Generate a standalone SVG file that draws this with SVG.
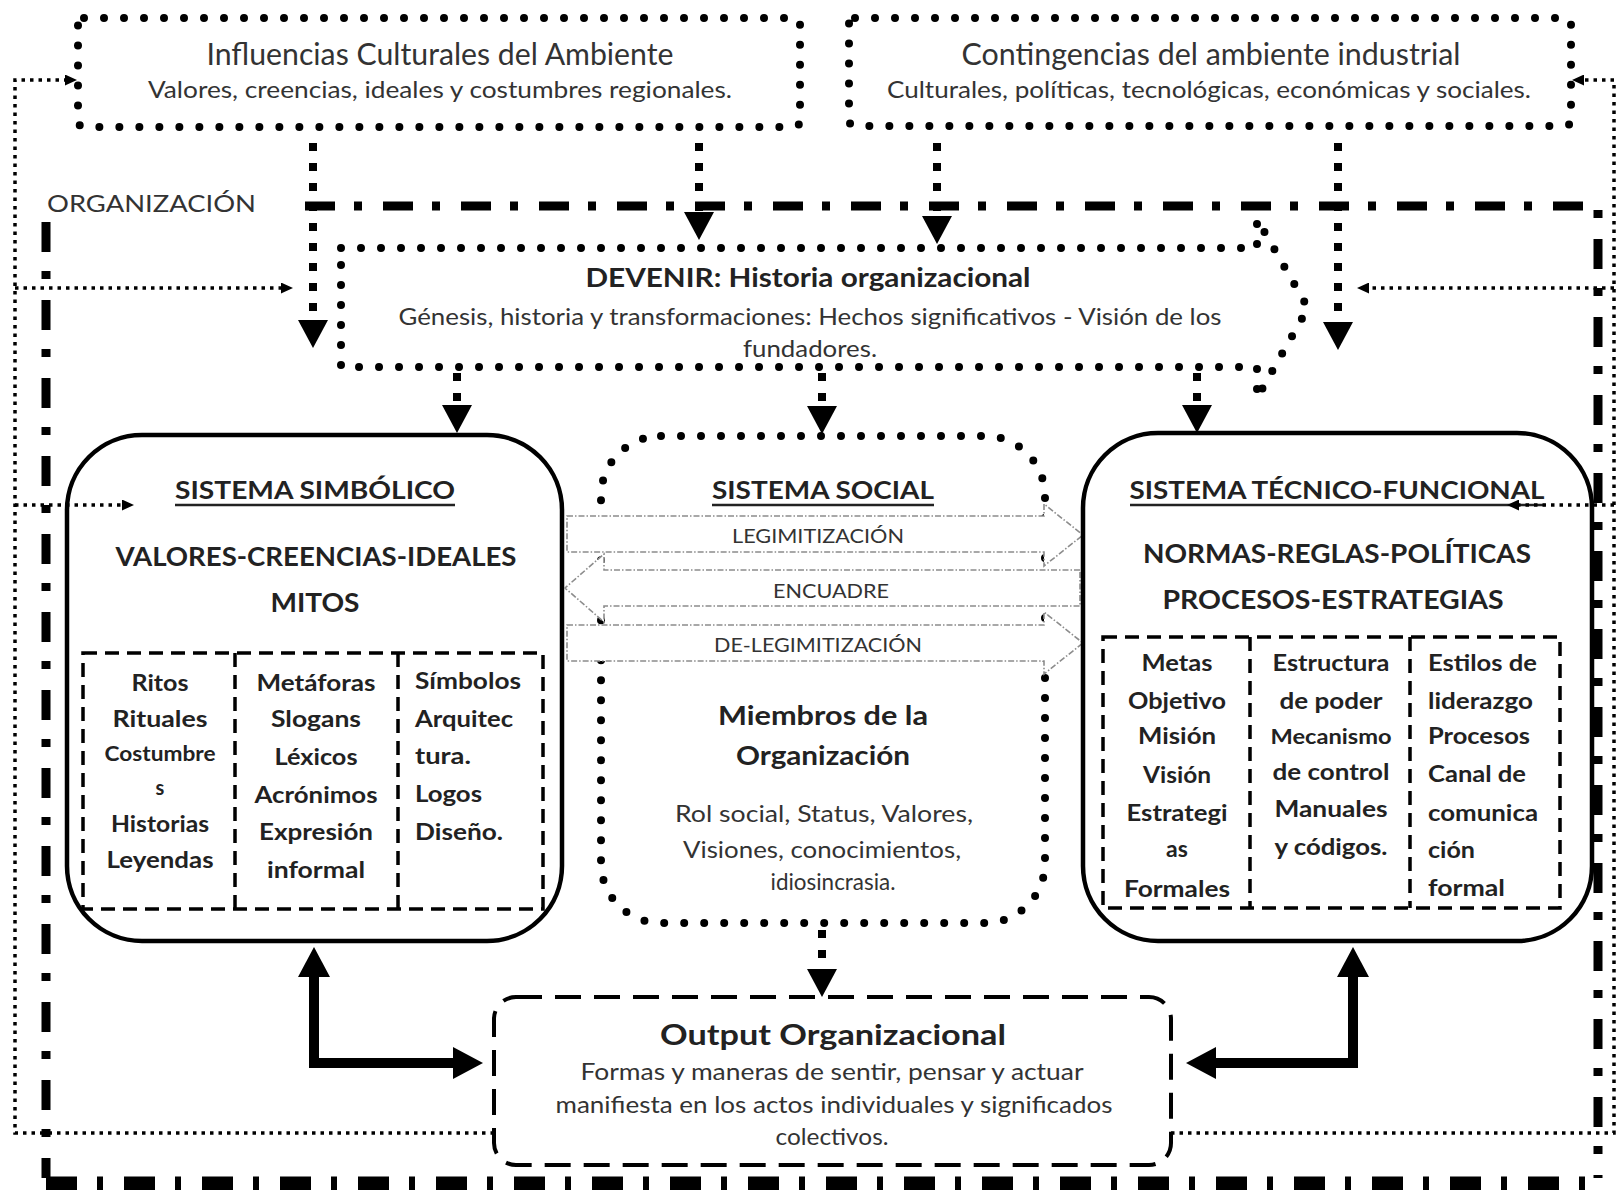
<svg xmlns="http://www.w3.org/2000/svg" width="1618" height="1190" viewBox="0 0 1618 1190">
  <defs>
    <style>
      .t { font-family: Lato, "Noto Sans", "Liberation Sans", sans-serif; fill: #333; }
      .b { font-weight: 700; fill: #222; }
      .c { text-anchor: middle; }
      .dots { fill: none; stroke: #000; stroke-width: 8; stroke-linecap: round; stroke-dasharray: 0 20; }
      .sq { fill: none; stroke: #000; stroke-width: 8; stroke-dasharray: 8 12; }
      .thin { fill: none; stroke: #000; stroke-width: 3.5; stroke-dasharray: 3.5 5; }
      .org { fill: none; stroke: #000; stroke-width: 9; stroke-dasharray: 30 19 8 21; }
      .orgb { fill: none; stroke: #000; stroke-width: 15; stroke-dasharray: 31 20 6 21; }
      .solid { fill: #fff; stroke: #000; stroke-width: 4.5; }
      .dash { fill: none; stroke: #000; stroke-width: 3.5; stroke-dasharray: 14 8; }
      .odash { fill: #fff; stroke: #000; stroke-width: 4; stroke-dasharray: 26 13; }
      .blk { fill: #fff; stroke: #8c8c8c; stroke-width: 1.6; stroke-dasharray: 6 2 1.5 2; }
      .thick { fill: none; stroke: #000; stroke-width: 10; stroke-linejoin: miter; }
      .ul { stroke: #222; stroke-width: 2.5; }
    </style>
    <marker id="ah" markerUnits="userSpaceOnUse" markerWidth="28" markerHeight="30" viewBox="0 0 28 30" refX="14" refY="15" orient="auto">
      <path d="M0,0L28,15L0,30Z" fill="#000"/>
    </marker>
    <marker id="sh" markerUnits="userSpaceOnUse" markerWidth="12" markerHeight="11" viewBox="0 0 12 11" refX="6" refY="5.5" orient="auto">
      <path d="M0,0L12,5.5L0,11Z" fill="#000"/>
    </marker>
    <marker id="th" markerUnits="userSpaceOnUse" markerWidth="30" markerHeight="32" viewBox="0 0 30 32" refX="15" refY="16" orient="auto-start-reverse">
      <path d="M0,0L30,16L0,32Z" fill="#000"/>
    </marker>
  </defs>

  <rect width="1618" height="1190" fill="#fff"/>

  <!-- organization boundary -->
  <g id="organizacion">
    <path class="org" d="M305,206 H1598 V1178"/>
    <path class="org" d="M46,222 V1178"/>
    <path class="orgb" d="M46,1184 H1604"/>
    <text class="t" x="47" y="212" font-size="24" textLength="209" lengthAdjust="spacingAndGlyphs">ORGANIZACIÓN</text>
  </g>

  <!-- environment boxes -->
  <g id="influencias">
    <rect class="dots" x="78" y="18" width="722" height="109" rx="6"/>
    <text class="t c" x="440" y="65" font-size="31" textLength="467" lengthAdjust="spacingAndGlyphs">Influencias Culturales del Ambiente</text>
    <text class="t c" x="440" y="98" font-size="23" textLength="584" lengthAdjust="spacingAndGlyphs">Valores, creencias, ideales y costumbres regionales.</text>
  </g>
  <g id="contingencias">
    <rect class="dots" x="849" y="18" width="722" height="108" rx="6"/>
    <text class="t c" x="1211" y="65" font-size="31" textLength="499" lengthAdjust="spacingAndGlyphs">Contingencias del ambiente industrial</text>
    <text class="t c" x="1209" y="98" font-size="23" textLength="644" lengthAdjust="spacingAndGlyphs">Culturales, políticas, tecnológicas, económicas y sociales.</text>
  </g>

  <!-- history arrow -->
  <g id="devenir">
    <path class="dots" fill="#fff" d="M341,248 H1257 V219 L1308,308 L1257,398 V367 H341 Z"/>
    <text class="t b c" x="808" y="287" font-size="26" textLength="445" lengthAdjust="spacingAndGlyphs">DEVENIR: Historia organizacional</text>
    <text class="t c" x="810" y="325" font-size="23" textLength="823" lengthAdjust="spacingAndGlyphs">Génesis, historia y transformaciones: Hechos significativos - Visión de los</text>
    <text class="t c" x="810" y="357" font-size="23" textLength="134" lengthAdjust="spacingAndGlyphs">fundadores.</text>
  </g>

  <!-- symbolic system -->
  <g id="simbolico">
    <rect class="solid" x="67" y="435" width="495" height="506" rx="75"/>
    <text class="t b c" x="315" y="499" font-size="25" textLength="280" lengthAdjust="spacingAndGlyphs">SISTEMA SIMBÓLICO</text>
    <line class="ul" x1="175" y1="505" x2="455" y2="505"/>
    <text class="t b c" x="316" y="566" font-size="26" textLength="401" lengthAdjust="spacingAndGlyphs">VALORES-CREENCIAS-IDEALES</text>
    <text class="t b c" x="315" y="612" font-size="26" textLength="89" lengthAdjust="spacingAndGlyphs">MITOS</text>
    <rect class="dash" x="83" y="653" width="460" height="256"/>
    <line class="dash" x1="235" y1="653" x2="235" y2="909"/>
    <line class="dash" x1="398" y1="653" x2="398" y2="909"/>
    <g class="t b c" font-size="23">
      <text x="160" y="691" textLength="57" lengthAdjust="spacingAndGlyphs">Ritos</text>
      <text x="160" y="727" textLength="95" lengthAdjust="spacingAndGlyphs">Rituales</text>
      <text x="160" y="761" font-size="20" textLength="111" lengthAdjust="spacingAndGlyphs">Costumbre</text>
      <text x="160" y="795" font-size="20">s</text>
      <text x="160" y="832" textLength="98" lengthAdjust="spacingAndGlyphs">Historias</text>
      <text x="160" y="868" textLength="107" lengthAdjust="spacingAndGlyphs">Leyendas</text>
      <text x="316" y="691" textLength="119" lengthAdjust="spacingAndGlyphs">Metáforas</text>
      <text x="316" y="727" textLength="90" lengthAdjust="spacingAndGlyphs">Slogans</text>
      <text x="316" y="765" textLength="83" lengthAdjust="spacingAndGlyphs">Léxicos</text>
      <text x="316" y="803" textLength="123" lengthAdjust="spacingAndGlyphs">Acrónimos</text>
      <text x="316" y="840" textLength="114" lengthAdjust="spacingAndGlyphs">Expresión</text>
      <text x="316" y="878" textLength="98" lengthAdjust="spacingAndGlyphs">informal</text>
    </g>
    <g class="t b" font-size="23">
      <text x="415" y="689" textLength="106" lengthAdjust="spacingAndGlyphs">Símbolos</text>
      <text x="415" y="727" textLength="98" lengthAdjust="spacingAndGlyphs">Arquitec</text>
      <text x="415" y="764" textLength="56" lengthAdjust="spacingAndGlyphs">tura.</text>
      <text x="415" y="802" textLength="67" lengthAdjust="spacingAndGlyphs">Logos</text>
      <text x="415" y="840" textLength="88" lengthAdjust="spacingAndGlyphs">Diseño.</text>
    </g>
  </g>

  <!-- social system -->
  <g id="social">
    <rect class="dots" x="601" y="436" width="444" height="487" rx="60"/>
    <text class="t b c" x="823" y="499" font-size="25" textLength="222" lengthAdjust="spacingAndGlyphs">SISTEMA SOCIAL</text>
    <line class="ul" x1="712" y1="505" x2="934" y2="505"/>
    <path class="blk" d="M567,516 H1044 V504 L1083,535 L1044,566 V552 H567 Z"/>
    <path class="blk" d="M1080,570 H604 V554 L565,588 L604,622 V606 H1080 Z"/>
    <path class="blk" d="M567,625 H1044 V612 L1083,643 L1044,674 V661 H567 Z"/>
    <text class="t c" x="818" y="543" font-size="20" textLength="172" lengthAdjust="spacingAndGlyphs">LEGIMITIZACIÓN</text>
    <text class="t c" x="831" y="598" font-size="20" textLength="116" lengthAdjust="spacingAndGlyphs">ENCUADRE</text>
    <text class="t c" x="818" y="652" font-size="20" textLength="208" lengthAdjust="spacingAndGlyphs">DE-LEGIMITIZACIÓN</text>
    <text class="t b c" x="823" y="725" font-size="27" textLength="210" lengthAdjust="spacingAndGlyphs">Miembros de la</text>
    <text class="t b c" x="823" y="765" font-size="27" textLength="174" lengthAdjust="spacingAndGlyphs">Organización</text>
    <text class="t c" x="824" y="822" font-size="23" textLength="298" lengthAdjust="spacingAndGlyphs">Rol social, Status, Valores,</text>
    <text class="t c" x="822" y="858" font-size="23" textLength="278" lengthAdjust="spacingAndGlyphs">Visiones, conocimientos,</text>
    <text class="t c" x="833" y="890" font-size="23" textLength="125" lengthAdjust="spacingAndGlyphs">idiosincrasia.</text>
  </g>

  <!-- technical-functional system -->
  <g id="tecnico">
    <rect class="solid" x="1083" y="433" width="509" height="508" rx="75"/>
    <text class="t b c" x="1337" y="499" font-size="25" textLength="415" lengthAdjust="spacingAndGlyphs">SISTEMA TÉCNICO-FUNCIONAL</text>
    <line class="ul" x1="1130" y1="505" x2="1545" y2="505"/>
    <text class="t b c" x="1337" y="563" font-size="26" textLength="388" lengthAdjust="spacingAndGlyphs">NORMAS-REGLAS-POLÍTICAS</text>
    <text class="t b c" x="1333" y="609" font-size="26" textLength="341" lengthAdjust="spacingAndGlyphs">PROCESOS-ESTRATEGIAS</text>
    <rect class="dash" x="1103" y="637" width="457" height="271"/>
    <line class="dash" x1="1250" y1="637" x2="1250" y2="908"/>
    <line class="dash" x1="1410" y1="637" x2="1410" y2="908"/>
    <g class="t b c" font-size="23">
      <text x="1177" y="671" textLength="71" lengthAdjust="spacingAndGlyphs">Metas</text>
      <text x="1177" y="709" textLength="98" lengthAdjust="spacingAndGlyphs">Objetivo</text>
      <text x="1177" y="744" textLength="78" lengthAdjust="spacingAndGlyphs">Misión</text>
      <text x="1177" y="783" textLength="68" lengthAdjust="spacingAndGlyphs">Visión</text>
      <text x="1177" y="821" textLength="101" lengthAdjust="spacingAndGlyphs">Estrategi</text>
      <text x="1177" y="857">as</text>
      <text x="1177" y="897" textLength="106" lengthAdjust="spacingAndGlyphs">Formales</text>
      <text x="1331" y="671" textLength="117" lengthAdjust="spacingAndGlyphs">Estructura</text>
      <text x="1331" y="709" textLength="103" lengthAdjust="spacingAndGlyphs">de poder</text>
      <text x="1331" y="744" font-size="21" textLength="121" lengthAdjust="spacingAndGlyphs">Mecanismo</text>
      <text x="1331" y="780" textLength="117" lengthAdjust="spacingAndGlyphs">de control</text>
      <text x="1331" y="817" textLength="113" lengthAdjust="spacingAndGlyphs">Manuales</text>
      <text x="1331" y="855" textLength="113" lengthAdjust="spacingAndGlyphs">y códigos.</text>
    </g>
    <g class="t b" font-size="23">
      <text x="1428" y="671" textLength="109" lengthAdjust="spacingAndGlyphs">Estilos de</text>
      <text x="1428" y="709" textLength="105" lengthAdjust="spacingAndGlyphs">liderazgo</text>
      <text x="1428" y="744" textLength="102" lengthAdjust="spacingAndGlyphs">Procesos</text>
      <text x="1428" y="782" textLength="98" lengthAdjust="spacingAndGlyphs">Canal de</text>
      <text x="1428" y="821" textLength="110" lengthAdjust="spacingAndGlyphs">comunica</text>
      <text x="1428" y="858" textLength="47" lengthAdjust="spacingAndGlyphs">ción</text>
      <text x="1428" y="896" textLength="77" lengthAdjust="spacingAndGlyphs">formal</text>
    </g>
  </g>

  <!-- organizational output -->
  <g id="output">
    <rect class="odash" x="494" y="997" width="677" height="168" rx="22"/>
    <text class="t b c" x="833" y="1045" font-size="29" textLength="346" lengthAdjust="spacingAndGlyphs">Output Organizacional</text>
    <text class="t c" x="832" y="1080" font-size="23" textLength="503" lengthAdjust="spacingAndGlyphs">Formas y maneras de sentir, pensar y actuar</text>
    <text class="t c" x="834" y="1113" font-size="23" textLength="557" lengthAdjust="spacingAndGlyphs">manifiesta en los actos individuales y significados</text>
    <text class="t c" x="832" y="1145" font-size="23" textLength="113" lengthAdjust="spacingAndGlyphs">colectivos.</text>
  </g>

  <!-- connectors -->
  <g id="connectors">
    <path class="sq" d="M313,143 V334" marker-end="url(#ah)"/>
    <path class="sq" d="M699,143 V226" marker-end="url(#ah)"/>
    <path class="sq" d="M937,143 V230" marker-end="url(#ah)"/>
    <path class="sq" d="M1338,143 V336" marker-end="url(#ah)"/>
    <path class="sq" d="M457,373 V419" marker-end="url(#ah)"/>
    <path class="sq" d="M822,373 V420" marker-end="url(#ah)"/>
    <path class="sq" d="M1197,373 V419" marker-end="url(#ah)"/>
    <path class="sq" d="M822,930 V983" marker-end="url(#ah)"/>

    <path class="thin" d="M494,1133 H15 V80 H71" marker-end="url(#sh)"/>
    <path class="thin" d="M15,288 H287" marker-end="url(#sh)"/>
    <path class="thin" d="M15,505 H128" marker-end="url(#sh)"/>
    <path class="thin" d="M1171,1133 H1614 V80 H1578" marker-end="url(#sh)"/>
    <path class="thin" d="M1614,288 H1363" marker-end="url(#sh)"/>
    <path class="thin" d="M1614,505 H1513" marker-end="url(#sh)"/>

    <path class="thick" d="M314,962 V1063 H468" marker-start="url(#th)" marker-end="url(#th)"/>
    <path class="thick" d="M1353,962 V1063 H1201" marker-start="url(#th)" marker-end="url(#th)"/>
  </g>
</svg>
